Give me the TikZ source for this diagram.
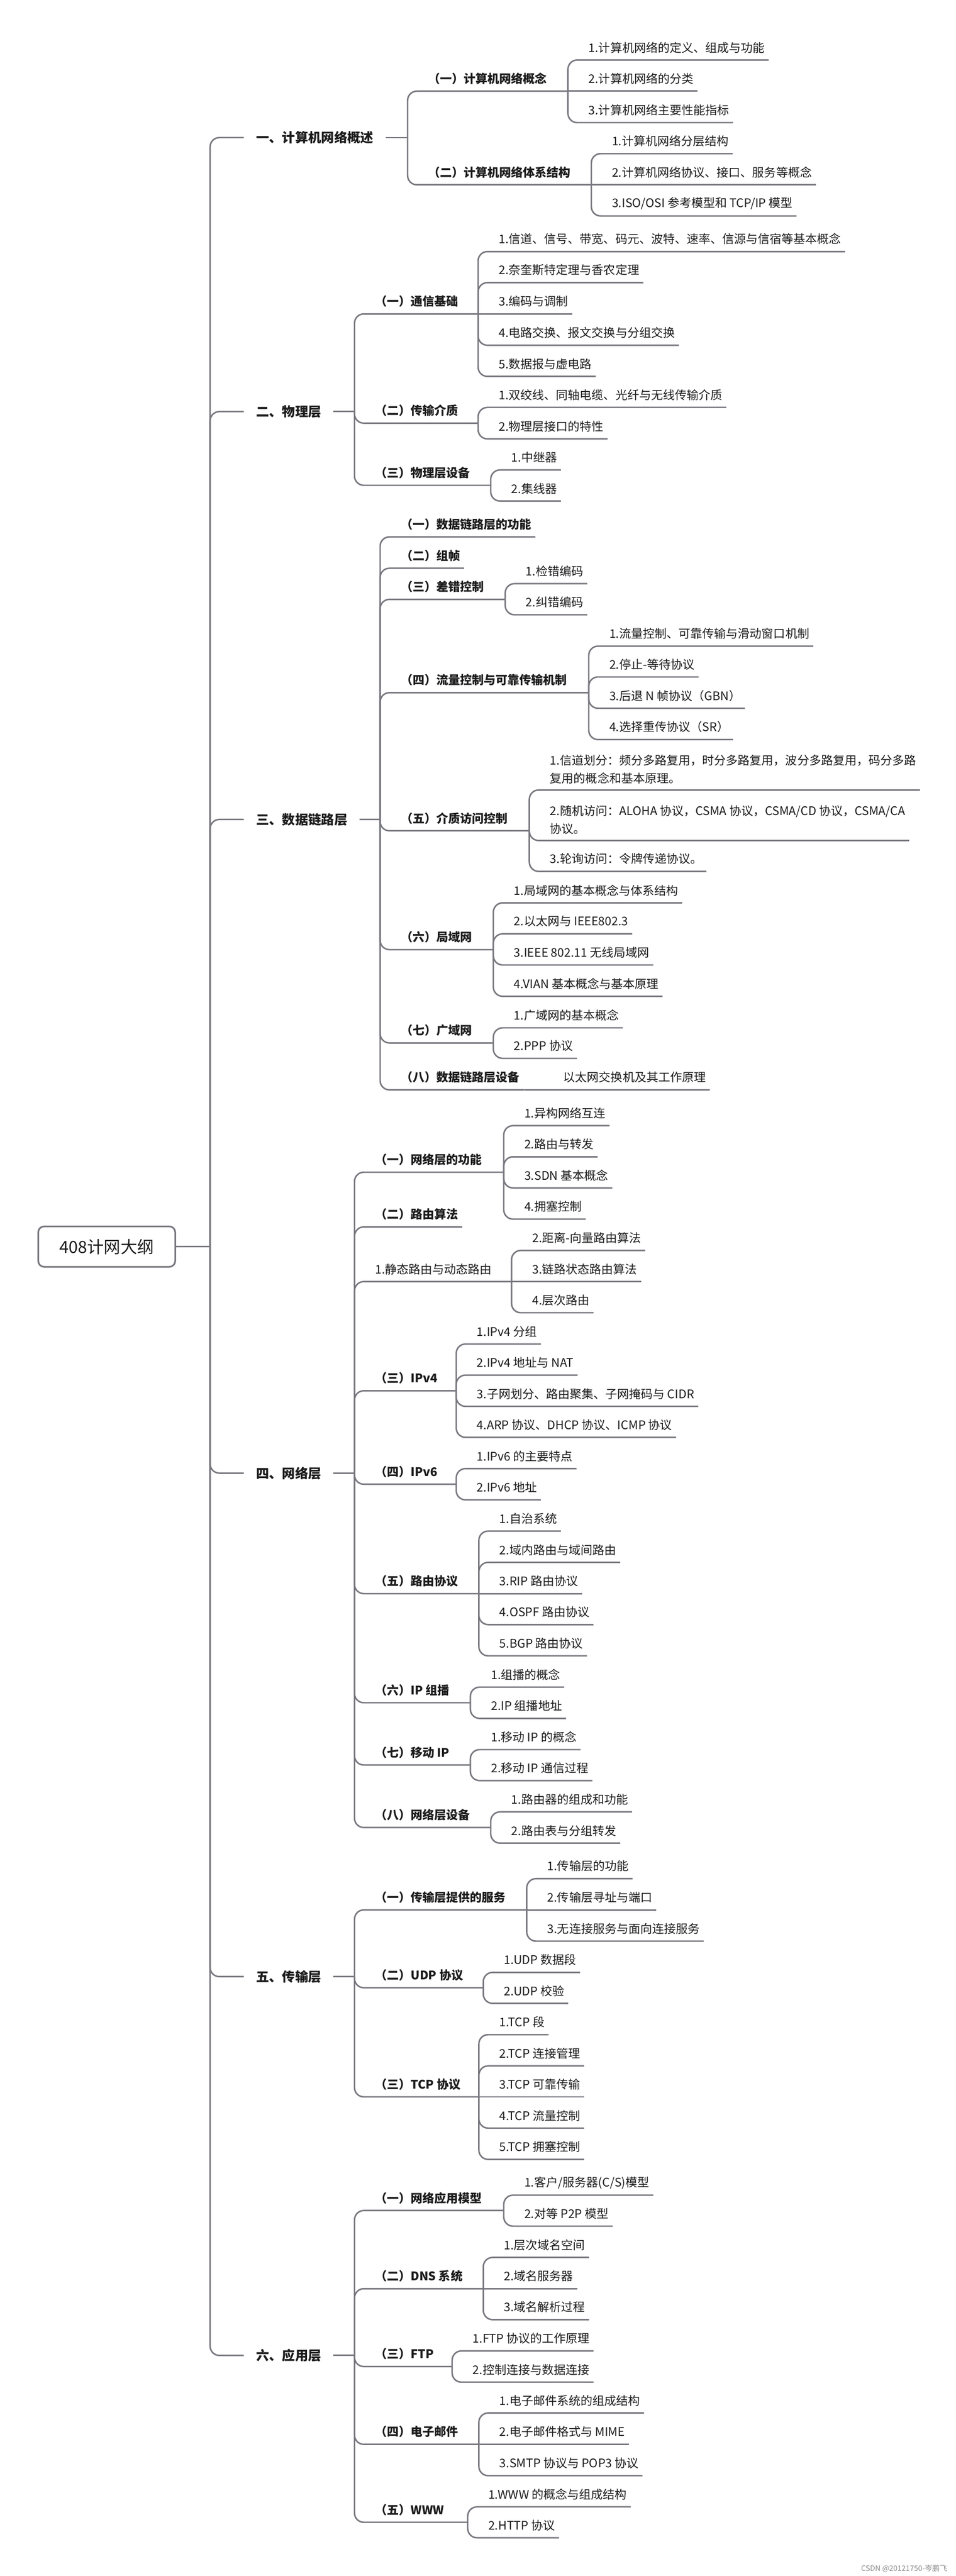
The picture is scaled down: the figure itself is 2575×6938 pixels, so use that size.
\documentclass[tikz,border=0pt]{standalone}
\usepackage{fontspec}
\setmainfont{Noto Sans CJK SC}
\definecolor{linegray}{RGB}{120,120,128}
\definecolor{textdark}{RGB}{28,28,28}
\tikzset{
        % Connectors
        link/.style={draw=linegray, line width=0.4mm, rounded corners=2.5mm},
        % Root box
        node_root/.style={draw=linegray, line width=0.45mm, rounded corners=1.6mm, fill=white, text=textdark, minimum width=36.9mm, minimum height=10.9mm, inner sep=0pt, font=\fontsize{12.8pt}{15pt}\selectfont},
        % Chapter nodes
        node_chapter/.style={anchor=west, inner xsep=3.2mm, text=textdark, font=\bfseries\fontsize{10pt}{12pt}\selectfont},
        % Section nodes
        node_section/.style={anchor=south west, inner xsep=1mm, inner ysep=1.6mm, minimum height=6.6mm, text=textdark, font=\bfseries\fontsize{9.1pt}{13.6pt}\selectfont},
        % Item nodes
        node_item/.style={node_section, align=left, font=\fontsize{9.1pt}{13.6pt}\selectfont}
}
\begin{document}
\begin{tikzpicture}[x=0.1mm, y=-0.1mm]
    \fill[white] (0,0) rectangle (2575,6938);
    \useasboundingbox (0,0) rectangle (2575,6938);

    % root
    \node[node_root] (outline) at (287.5,3357.5) {408计网大纲};
    \coordinate (outline_v) at (566,3357.5);
    \draw[link] (outline.east) -- (outline_v);

    % chapters
    \node[node_chapter] (c1) at (657,370.5) {一、计算机网络概述};
    \node[node_chapter] (c2) at (657,1108.5) {二、物理层};
    \node[node_chapter] (c3) at (657,2207) {三、数据链路层};
    \node[node_chapter] (c4) at (657,3967.6) {四、网络层};
    \node[node_chapter] (c5) at (657,5323.7) {五、传输层};
    \node[node_chapter] (c6) at (657,6343.9) {六、应用层};
    \foreach \c in {c1,c2,c3,c4,c5,c6}
        \draw[link] (outline_v) |- (\c.west);
    \coordinate (c1v) at (1098,370.5);
    \coordinate (c2v) at (955,1108.5);
    \coordinate (c3v) at (1024,2207);
    \coordinate (c4v) at (955,3967.6);
    \coordinate (c5v) at (955,5323.7);
    \coordinate (c6v) at (955,6343.9);
    \foreach \c in {c1,c2,c3,c4,c5,c6}
        \draw[link] (\c.east) -- (\c v);

    % chapter 1
    \node[node_section] (c1a) at (1143,245.5) {（一）计算机网络概念};
    \coordinate (c1av) at (1530,245.5);
    \node[node_item] (c1a1) at (1575,161.6) {1.计算机网络的定义、组成与功能};
    \node[node_item] (c1a2) at (1575,245.5) {2.计算机网络的分类};
    \node[node_item] (c1a3) at (1575,330.3) {3.计算机网络主要性能指标};
    \node[node_section] (c1b) at (1143,497.7) {（二）计算机网络体系结构};
    \coordinate (c1bv) at (1593,497.7);
    \node[node_item] (c1b1) at (1638,413.8) {1.计算机网络分层结构};
    \node[node_item] (c1b2) at (1638,497.7) {2.计算机网络协议、接口、服务等概念};
    \node[node_item] (c1b3) at (1638,581.7) {3.ISO/OSI 参考模型和 TCP/IP 模型};
    \foreach \c in {c1av,c1bv}
        \draw[link] (c1v) |- (\c);
    \foreach \c in {c1a1,c1a3}
        \draw[link] (c1av) |- (\c.south east);
    \foreach \c in {c1b1,c1b3}
        \draw[link] (c1bv) |- (\c.south east);
    \draw[link] (c1av) -- (c1a2.south east);
    \draw[link] (c1bv) -- (c1b2.south east);

    % chapter 2
    \node[node_section] (c2a) at (1000,845.5) {（一）通信基础};
    \coordinate (c2av) at (1288,845.5);
    \node[node_item] (c2a1) at (1333,677.6) {1.信道、信号、带宽、码元、波特、速率、信源与信宿等基本概念};
    \node[node_item] (c2a2) at (1333,761.2) {2.奈奎斯特定理与香农定理};
    \node[node_item] (c2a3) at (1333,845.5) {3.编码与调制};
    \node[node_item] (c2a4) at (1333,929.9) {4.电路交换、报文交换与分组交换};
    \node[node_item] (c2a5) at (1333,1013.8) {5.数据报与虚电路};
    \node[node_section] (c2b) at (1000,1139.7) {（二）传输介质};
    \coordinate (c2bv) at (1288,1139.7);
    \node[node_item] (c2b1) at (1333,1097.3) {1.双绞线、同轴电缆、光纤与无线传输介质};
    \node[node_item] (c2b2) at (1333,1182.1) {2.物理层接口的特性};
    \node[node_section] (c2c) at (1000,1307.1) {（三）物理层设备};
    \coordinate (c2cv) at (1322,1307.1);
    \node[node_item] (c2c1) at (1367,1265.6) {1.中继器};
    \node[node_item] (c2c2) at (1367,1349.5) {2.集线器};
    \foreach \c in {c2av,c2bv,c2cv}
        \draw[link] (c2v) |- (\c);
    \foreach \c in {c2a1,c2a2,c2a4,c2a5}
        \draw[link] (c2av) |- (\c.south east);
    \draw[link] (c2av) -- (c2a3.south east);
    \foreach \c in {c2b1,c2b2}
        \draw[link] (c2bv) |- (\c.south east);
    \foreach \c in {c2c1,c2c2}
        \draw[link] (c2cv) |- (\c.south east);

    % chapter 3
    \node[node_section] (c3a) at (1069,1446) {（一）数据链路层的功能};
    \node[node_section] (c3b) at (1069,1530.4) {（二）组帧};
    \node[node_section] (c3c) at (1069,1614.3) {（三）差错控制};
    \coordinate (c3cv) at (1361,1614.3);
    \node[node_item] (c3c1) at (1406,1571.9) {1.检错编码};
    \node[node_item] (c3c2) at (1406,1655.8) {2.纠错编码};
    \node[node_section] (c3d) at (1069,1865.6) {（四）流量控制与可靠传输机制};
    \coordinate (c3dv) at (1586,1865.6);
    \node[node_item] (c3d1) at (1631,1740.2) {1.流量控制、可靠传输与滑动窗口机制};
    \node[node_item] (c3d2) at (1631,1823.2) {2.停止-等待协议};
    \node[node_item] (c3d3) at (1631,1907.6) {3.后退 N 帧协议（GBN）};
    \node[node_item] (c3d4) at (1631,1991.9) {4.选择重传协议（SR）};
    \node[node_section] (c3e) at (1069,2237.5) {（五）介质访问控制};
    \coordinate (c3ev) at (1426,2237.5);
    \node[node_item] (c3e1) at (1471,2127.7) {1.信道划分：频分多路复用，时分多路复用，波分多路复用，码分多路\\复用的概念和基本原理。};
    \node[node_item] (c3e2) at (1471,2263.8) {2.随机访问：ALOHA 协议，CSMA 协议，CSMA/CD 协议，CSMA/CA\\协议。};
    \node[node_item] (c3e3) at (1471,2346.9) {3.轮询访问：令牌传递协议。};
    \node[node_section] (c3f) at (1069,2557.6) {（六）局域网};
    \coordinate (c3fv) at (1329,2557.6);
    \node[node_item] (c3f1) at (1374,2431.7) {1.局域网的基本概念与体系结构};
    \node[node_item] (c3f2) at (1374,2515.1) {2.以太网与 IEEE802.3};
    \node[node_item] (c3f3) at (1374,2599) {3.IEEE 802.11 无线局域网};
    \node[node_item] (c3f4) at (1374,2683.4) {4.VIAN 基本概念与基本原理};
    \node[node_section] (c3g) at (1069,2808.9) {（七）广域网};
    \coordinate (c3gv) at (1329,2808.9);
    \node[node_item] (c3g1) at (1374,2768.3) {1.广域网的基本概念};
    \node[node_item] (c3g2) at (1374,2850.4) {2.PPP 协议};
    \node[node_section] (c3h) at (1069,2935.3) {（八）数据链路层设备};
    \coordinate (c3hv) at (1412,2935.3);
    \node[node_item] (c3h1) at (1507,2935.3) {以太网交换机及其工作原理};
    \foreach \c in {c3a,c3b}
        \draw[link] (c3v) |- (\c.south east);
    \foreach \c in {c3cv,c3dv,c3ev,c3fv,c3gv,c3hv}
        \draw[link] (c3v) |- (\c);
    \foreach \c in {c3c1,c3c2}
        \draw[link] (c3cv) |- (\c.south east);
    \foreach \c in {c3d1,c3d2,c3d3,c3d4}
        \draw[link] (c3dv) |- (\c.south east);
    \foreach \c in {c3e1,c3e2,c3e3}
        \draw[link] (c3ev) |- (\c.south east);
    \foreach \c in {c3f1,c3f2,c3f3,c3f4}
        \draw[link] (c3fv) |- (\c.south east);
    \foreach \c in {c3g1,c3g2}
        \draw[link] (c3gv) |- (\c.south east);
    \draw[link] (c3hv) -- (c3h1.south east);

    % chapter 4
    \node[node_section] (c4a) at (1000,3157.1) {（一）网络层的功能};
    \coordinate (c4av) at (1357,3157.1);
    \node[node_item] (c4a1) at (1402,3031.7) {1.异构网络互连};
    \node[node_item] (c4a2) at (1402,3115.6) {2.路由与转发};
    \node[node_item] (c4a3) at (1402,3199.5) {3.SDN 基本概念};
    \node[node_item] (c4a4) at (1402,3283.4) {4.拥塞控制};
    \node[node_section] (c4b) at (1000,3304.4) {（二）路由算法};
    \node[node_item] (c4c) at (1000,3451.7) {1.静态路由与动态路由};
    \coordinate (c4cv) at (1378,3451.7);
    \node[node_item] (c4c1) at (1423,3367.8) {2.距离-向量路由算法};
    \node[node_item] (c4c2) at (1423,3451.7) {3.链路状态路由算法};
    \node[node_item] (c4c3) at (1423,3535.6) {4.层次路由};
    \node[node_section] (c4d) at (1000,3745.7) {（三）IPv4};
    \coordinate (c4dv) at (1229,3745.7);
    \node[node_item] (c4d1) at (1274,3619.8) {1.IPv4 分组};
    \node[node_item] (c4d2) at (1274,3703.6) {2.IPv4 地址与 NAT};
    \node[node_item] (c4d3) at (1274,3787.8) {3.子网划分、路由聚集、子网掩码与 CIDR};
    \node[node_item] (c4d4) at (1274,3871.2) {4.ARP 协议、DHCP 协议、ICMP 协议};
    \node[node_section] (c4e) at (1000,3997.5) {（四）IPv6};
    \coordinate (c4ev) at (1229,3997.5);
    \node[node_item] (c4e1) at (1274,3955.4) {1.IPv6 的主要特点};
    \node[node_item] (c4e2) at (1274,4039.6) {2.IPv6 地址};
    \node[node_section] (c4f) at (1000,4292.1) {（五）路由协议};
    \coordinate (c4fv) at (1290,4292.1);
    \node[node_item] (c4f1) at (1335,4123.7) {1.自治系统};
    \node[node_item] (c4f2) at (1335,4207.9) {2.域内路由与域间路由};
    \node[node_item] (c4f3) at (1335,4292.1) {3.RIP 路由协议};
    \node[node_item] (c4f4) at (1335,4375.5) {4.OSPF 路由协议};
    \node[node_item] (c4f5) at (1335,4459.7) {5.BGP 路由协议};
    \node[node_section] (c4g) at (1000,4586) {（六）IP 组播};
    \coordinate (c4gv) at (1267,4586);
    \node[node_item] (c4g1) at (1312,4543.9) {1.组播的概念};
    \node[node_item] (c4g2) at (1312,4628.1) {2.IP 组播地址};
    \node[node_section] (c4h) at (1000,4753.6) {（七）移动 IP};
    \coordinate (c4hv) at (1267,4753.6);
    \node[node_item] (c4h1) at (1312,4712.2) {1.移动 IP 的概念};
    \node[node_item] (c4h2) at (1312,4795.7) {2.移动 IP 通信过程};
    \node[node_section] (c4i) at (1000,4922) {（八）网络层设备};
    \coordinate (c4iv) at (1322,4922);
    \node[node_item] (c4i1) at (1367,4879.9) {1.路由器的组成和功能};
    \node[node_item] (c4i2) at (1367,4964.1) {2.路由表与分组转发};
    \draw[link] (c4v) |- (c4b.south east);
    \foreach \c in {c4av,c4cv,c4dv,c4ev,c4fv,c4gv,c4hv,c4iv}
        \draw[link] (c4v) |- (\c);
    \foreach \c in {c4a1,c4a2,c4a3,c4a4}
        \draw[link] (c4av) |- (\c.south east);
    \foreach \c in {c4c1,c4c3}
        \draw[link] (c4cv) |- (\c.south east);
    \draw[link] (c4cv) -- (c4c2.south east);
    \foreach \c in {c4d1,c4d2,c4d3,c4d4}
        \draw[link] (c4dv) |- (\c.south east);
    \foreach \c in {c4e1,c4e2}
        \draw[link] (c4ev) |- (\c.south east);
    \foreach \c in {c4f1,c4f2,c4f4,c4f5}
        \draw[link] (c4fv) |- (\c.south east);
    \draw[link] (c4fv) -- (c4f3.south east);
    \foreach \c in {c4g1,c4g2}
        \draw[link] (c4gv) |- (\c.south east);
    \foreach \c in {c4h1,c4h2}
        \draw[link] (c4hv) |- (\c.south east);
    \foreach \c in {c4i1,c4i2}
        \draw[link] (c4iv) |- (\c.south east);

    % chapter 5
    \node[node_section] (c5a) at (1000,5143.9) {（一）传输层提供的服务};
    \coordinate (c5av) at (1419,5143.9);
    \node[node_item] (c5a1) at (1464,5059.7) {1.传输层的功能};
    \node[node_item] (c5a2) at (1464,5143.9) {2.传输层寻址与端口};
    \node[node_item] (c5a3) at (1464,5228.1) {3.无连接服务与面向连接服务};
    \node[node_section] (c5b) at (1000,5353.6) {（二）UDP 协议};
    \coordinate (c5bv) at (1302,5353.6);
    \node[node_item] (c5b1) at (1347,5312.2) {1.UDP 数据段};
    \node[node_item] (c5b2) at (1347,5395.7) {2.UDP 校验};
    \node[node_section] (c5c) at (1000,5647.5) {（三）TCP 协议};
    \coordinate (c5cv) at (1290,5647.5);
    \node[node_item] (c5c1) at (1335,5479.9) {1.TCP 段};
    \node[node_item] (c5c2) at (1335,5564.1) {2.TCP 连接管理};
    \node[node_item] (c5c3) at (1335,5647.5) {3.TCP 可靠传输};
    \node[node_item] (c5c4) at (1335,5731.7) {4.TCP 流量控制};
    \node[node_item] (c5c5) at (1335,5815.9) {5.TCP 拥塞控制};
    \foreach \c in {c5av,c5bv,c5cv}
        \draw[link] (c5v) |- (\c);
    \foreach \c in {c5a1,c5a3}
        \draw[link] (c5av) |- (\c.south east);
    \draw[link] (c5av) -- (c5a2.south east);
    \foreach \c in {c5b1,c5b2}
        \draw[link] (c5bv) |- (\c.south east);
    \foreach \c in {c5c1,c5c2,c5c4,c5c5}
        \draw[link] (c5cv) |- (\c.south east);
    \draw[link] (c5cv) -- (c5c3.south east);

    % chapter 6
    \node[node_section] (c6a) at (1000,5953.6) {（一）网络应用模型};
    \coordinate (c6av) at (1357,5953.6);
    \node[node_item] (c6a1) at (1402,5912.2) {1.客户/服务器(C/S)模型};
    \node[node_item] (c6a2) at (1402,5995.7) {2.对等 P2P 模型};
    \node[node_section] (c6b) at (1000,6164.1) {（二）DNS 系统};
    \coordinate (c6bv) at (1302,6164.1);
    \node[node_item] (c6b1) at (1347,6079.9) {1.层次域名空间};
    \node[node_item] (c6b2) at (1347,6164.1) {2.域名服务器};
    \node[node_item] (c6b3) at (1347,6247.5) {3.域名解析过程};
    \node[node_section] (c6c) at (1000,6373.8) {（三）FTP};
    \coordinate (c6cv) at (1218,6373.8);
    \node[node_item] (c6c1) at (1263,6331.7) {1.FTP 协议的工作原理};
    \node[node_item] (c6c2) at (1263,6415.9) {2.控制连接与数据连接};
    \node[node_section] (c6d) at (1000,6583.3) {（四）电子邮件};
    \coordinate (c6dv) at (1290,6583.3);
    \node[node_item] (c6d1) at (1335,6498.9) {1.电子邮件系统的组成结构};
    \node[node_item] (c6d2) at (1335,6583.3) {2.电子邮件格式与 MIME};
    \node[node_item] (c6d3) at (1335,6667.7) {3.SMTP 协议与 POP3 协议};
    \node[node_section] (c6e) at (1000,6793.3) {（五）WWW};
    \coordinate (c6ev) at (1260,6793.3);
    \node[node_item] (c6e1) at (1305,6751.7) {1.WWW 的概念与组成结构};
    \node[node_item] (c6e2) at (1305,6835) {2.HTTP 协议};
    \foreach \c in {c6av,c6bv,c6cv,c6dv,c6ev}
        \draw[link] (c6v) |- (\c);
    \foreach \c in {c6a1,c6a2}
        \draw[link] (c6av) |- (\c.south east);
    \foreach \c in {c6b1,c6b3}
        \draw[link] (c6bv) |- (\c.south east);
    \draw[link] (c6bv) -- (c6b2.south east);
    \foreach \c in {c6c1,c6c2}
        \draw[link] (c6cv) |- (\c.south east);
    \foreach \c in {c6d1,c6d3}
        \draw[link] (c6dv) |- (\c.south east);
    \draw[link] (c6dv) -- (c6d2.south east);
    \foreach \c in {c6e1,c6e2}
        \draw[link] (c6ev) |- (\c.south east);

    % watermark
    \node[anchor=east, text=black!45, font=\fontsize{5.7pt}{7pt}\selectfont] (mark) at (2564,6918) {CSDN @20121750-岑鹏飞};
\end{tikzpicture}
\end{document}
